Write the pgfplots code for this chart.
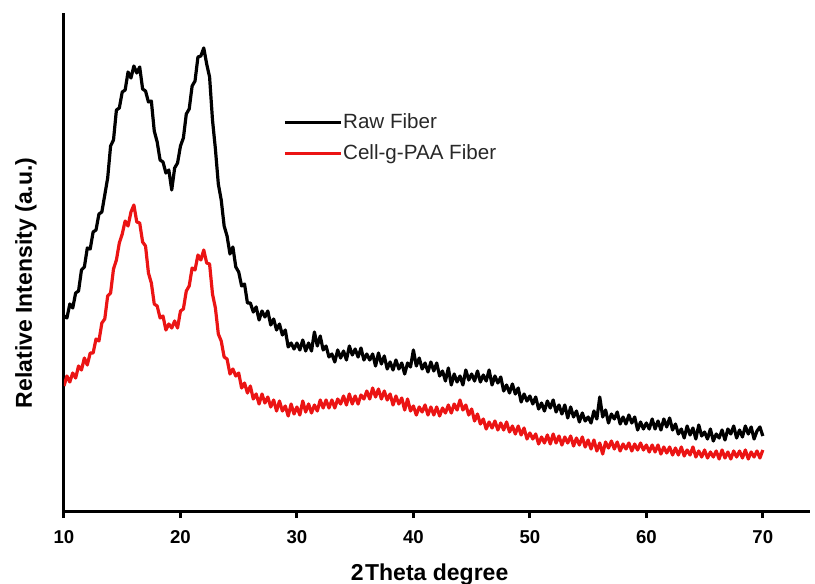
\documentclass[border=0pt]{standalone}
\usepackage{pgfplots}
\pgfplotsset{compat=1.18}
\usepackage{fontspec}
\setmainfont{Liberation Sans}
\definecolor{xrdred}{RGB}{235,20,20}
\definecolor{legtext}{RGB}{40,40,40}
\begin{document}
\begin{tikzpicture}
\begin{axis}[
  scale only axis, width=373pt, height=249pt,
  xmin=10, xmax=74.05, ymin=0, ymax=498,
  axis x line*=bottom, axis y line*=left,
  axis line style={line width=1.5pt},
  ytick=\empty,
  xtick={10,20,...,70},
  tick align=outside, major tick length=3.5pt,
  tick style={line width=1.5pt, black},
  /pgf/number format/assume math mode=true,
  tick label style={font=\fontsize{9.3}{10}\selectfont\bfseries},
  xticklabel style={yshift=-2.5pt},
  xlabel={2\kern0.8pt Theta degree},
  ylabel={Relative Intensity (a.u.)},
  label style={font=\fontsize{11.5}{13}\selectfont\bfseries},
  xlabel style={at={(axis description cs:0.49,-0.128)}, anchor=center},
  ylabel style={at={(axis description cs:-0.051,0.458)}, anchor=center},
  legend style={at={(axis cs:28.8,373)}, anchor=west, draw=none, fill=none,
    font=\fontsize{10.3}{12}\selectfont\color{legtext}, inner sep=0pt,
    row sep=5.5pt, nodes={inner sep=0.5pt}},
  legend cell align=left,
  legend image code/.code={\draw[#1, line width=1.4pt] (0pt,0pt) -- (28pt,0pt);},
]
\addplot[black, line width=1.6pt, line join=round] coordinates {
(10.00,195) (10.25,193) (10.50,207) (10.75,203) (11.00,218) (11.25,220) (11.50,241) (11.75,244)
(12.00,263) (12.25,262) (12.50,279) (12.75,281) (13.00,297) (13.25,299) (13.50,316) (13.75,333)
(14.00,365) (14.25,371) (14.50,401) (14.75,403) (15.00,419) (15.25,421) (15.50,439) (15.75,433)
(16.00,445) (16.25,438) (16.50,444) (16.75,422) (17.00,420) (17.25,409) (17.50,410) (17.75,380)
(18.00,369) (18.25,351) (18.50,349) (18.75,338) (19.00,341) (19.25,321) (19.50,343) (19.75,348)
(20.00,365) (20.25,373) (20.50,397) (20.75,402) (21.00,425) (21.25,430) (21.50,454) (21.75,455)
(22.00,463) (22.25,447) (22.50,434) (22.75,391) (23.00,362) (23.25,327) (23.50,311) (23.75,285)
(24.00,275) (24.25,257) (24.50,264) (24.75,244) (25.00,239) (25.25,225) (25.50,227) (25.75,208)
(26.00,208) (26.25,199) (26.50,204) (26.75,191) (27.00,200) (27.25,194) (27.50,200) (27.75,186)
(28.00,192) (28.25,181) (28.50,187) (28.75,176) (29.00,181) (29.25,164) (29.50,168) (29.75,162)
(30.00,168) (30.25,161) (30.50,171) (30.75,160) (31.00,168) (31.25,160) (31.50,179) (31.75,165)
(32.00,175) (32.25,161) (32.50,165) (32.75,154) (33.00,157) (33.25,149) (33.50,161) (33.75,153)
(34.00,160) (34.25,151) (34.50,165) (34.75,156) (35.00,162) (35.25,154) (35.50,163) (35.75,151)
(36.00,157) (36.25,151) (36.50,157) (36.75,145) (37.00,158) (37.25,147) (37.50,155) (37.75,142)
(38.00,149) (38.25,141) (38.50,151) (38.75,142) (39.00,148) (39.25,137) (39.50,148) (39.75,144)
(40.00,161) (40.25,145) (40.50,153) (40.75,142) (41.00,148) (41.25,139) (41.50,149) (41.75,140)
(42.00,148) (42.25,135) (42.50,140) (42.75,130) (43.00,143) (43.25,126) (43.50,137) (43.75,129)
(44.00,135) (44.25,126) (44.50,141) (44.75,131) (45.00,137) (45.25,130) (45.50,140) (45.75,129)
(46.00,136) (46.25,130) (46.50,141) (46.75,126) (47.00,135) (47.25,128) (47.50,134) (47.75,120)
(48.00,126) (48.25,118) (48.50,127) (48.75,117) (49.00,123) (49.25,109) (49.50,117) (49.75,110)
(50.00,115) (50.25,107) (50.50,114) (50.75,102) (51.00,108) (51.25,100) (51.50,110) (51.75,103)
(52.00,111) (52.25,99) (52.50,106) (52.75,97) (53.00,106) (53.25,93) (53.50,104) (53.75,94)
(54.00,100) (54.25,89) (54.50,98) (54.75,90) (55.00,94) (55.25,88) (55.50,100) (55.75,92)
(56.00,114) (56.25,94) (56.50,101) (56.75,88) (57.00,97) (57.25,92) (57.50,99) (57.75,87)
(58.00,94) (58.25,87) (58.50,96) (58.75,88) (59.00,94) (59.25,81) (59.50,89) (59.75,82)
(60.00,88) (60.25,82) (60.50,92) (60.75,82) (61.00,90) (61.25,81) (61.50,92) (61.75,84)
(62.00,93) (62.25,81) (62.50,87) (62.75,77) (63.00,82) (63.25,73) (63.50,85) (63.75,76)
(64.00,83) (64.25,72) (64.50,86) (64.75,75) (65.00,79) (65.25,72) (65.50,82) (65.75,70)
(66.00,77) (66.25,73) (66.50,81) (66.75,71) (67.00,82) (67.25,77) (67.50,85) (67.75,73)
(68.00,81) (68.25,74) (68.50,85) (68.75,77) (69.00,84) (69.25,72) (69.50,80) (69.75,84)
(70.00,75)
};
\addlegendentry{Raw Fiber}
\addplot[xrdred, line width=1.6pt, line join=round] coordinates {
(10.00,125) (10.25,135) (10.50,129) (10.75,138) (11.00,133) (11.25,145) (11.50,141) (11.75,153)
(12.00,146) (12.25,158) (12.50,158) (12.75,172) (13.00,170) (13.25,188) (13.50,192) (13.75,215)
(14.00,218) (14.25,242) (14.50,251) (14.75,268) (15.00,277) (15.25,290) (15.50,285) (15.75,299)
(16.00,306) (16.25,289) (16.50,288) (16.75,269) (17.00,265) (17.25,238) (17.50,228) (17.75,207)
(18.00,205) (18.25,193) (18.50,195) (18.75,181) (19.00,187) (19.25,183) (19.50,190) (19.75,183)
(20.00,200) (20.25,202) (20.50,220) (20.75,225) (21.00,243) (21.25,241) (21.50,256) (21.75,251)
(22.00,261) (22.25,248) (22.50,247) (22.75,217) (23.00,203) (23.25,177) (23.50,170) (23.75,154)
(24.00,152) (24.25,137) (24.50,142) (24.75,135) (25.00,138) (25.25,123) (25.50,128) (25.75,118)
(26.00,125) (26.25,112) (26.50,117) (26.75,107) (27.00,117) (27.25,108) (27.50,114) (27.75,104)
(28.00,111) (28.25,100) (28.50,110) (28.75,100) (29.00,105) (29.25,95) (29.50,107) (29.75,97)
(30.00,104) (30.25,96) (30.50,110) (30.75,99) (31.00,107) (31.25,98) (31.50,106) (31.75,100)
(32.00,111) (32.25,103) (32.50,111) (32.75,103) (33.00,111) (33.25,103) (33.50,112) (33.75,107)
(34.00,115) (34.25,106) (34.50,117) (34.75,107) (35.00,115) (35.25,107) (35.50,116) (35.75,112)
(36.00,120) (36.25,112) (36.50,123) (36.75,114) (37.00,122) (37.25,112) (37.50,120) (37.75,111)
(38.00,117) (38.25,106) (38.50,115) (38.75,107) (39.00,113) (39.25,101) (39.50,112) (39.75,100)
(40.00,105) (40.25,96) (40.50,104) (40.75,99) (41.00,106) (41.25,96) (41.50,104) (41.75,96)
(42.00,104) (42.25,95) (42.50,103) (42.75,98) (43.00,106) (43.25,98) (43.50,107) (43.75,101)
(44.00,111) (44.25,101) (44.50,106) (44.75,96) (45.00,102) (45.25,90) (45.50,97) (45.75,87)
(46.00,92) (46.25,82) (46.50,89) (46.75,83) (47.00,90) (47.25,81) (47.50,88) (47.75,81)
(48.00,89) (48.25,79) (48.50,85) (48.75,77) (49.00,85) (49.25,76) (49.50,83) (49.75,72)
(50.00,78) (50.25,72) (50.50,77) (50.75,67) (51.00,74) (51.25,68) (51.50,76) (51.75,67)
(52.00,77) (52.25,68) (52.50,75) (52.75,66) (53.00,74) (53.25,68) (53.50,75) (53.75,65)
(54.00,73) (54.25,66) (54.50,74) (54.75,64) (55.00,71) (55.25,62) (55.50,71) (55.75,60)
(56.00,68) (56.25,57) (56.50,69) (56.75,63) (57.00,70) (57.25,62) (57.50,69) (57.75,60)
(58.00,67) (58.25,62) (58.50,68) (58.75,60) (59.00,67) (59.25,61) (59.50,68) (59.75,61)
(60.00,66) (60.25,59) (60.50,66) (60.75,59) (61.00,66) (61.25,57) (61.50,64) (61.75,58)
(62.00,64) (62.25,56) (62.50,63) (62.75,56) (63.00,64) (63.25,55) (63.50,61) (63.75,56)
(64.00,64) (64.25,54) (64.50,60) (64.75,54) (65.00,61) (65.25,53) (65.50,59) (65.75,54)
(66.00,60) (66.25,52) (66.50,61) (66.75,53) (67.00,59) (67.25,52) (67.50,60) (67.75,54)
(68.00,60) (68.25,53) (68.50,61) (68.75,52) (69.00,59) (69.25,54) (69.50,60) (69.75,53)
(70.00,61)
};
\addlegendentry{Cell-g-PAA Fiber}
\end{axis}
\pgfresetboundingbox
\useasboundingbox (-32pt,-36.5pt) rectangle (375.5pt,255.5pt);
\end{tikzpicture}
\end{document}
